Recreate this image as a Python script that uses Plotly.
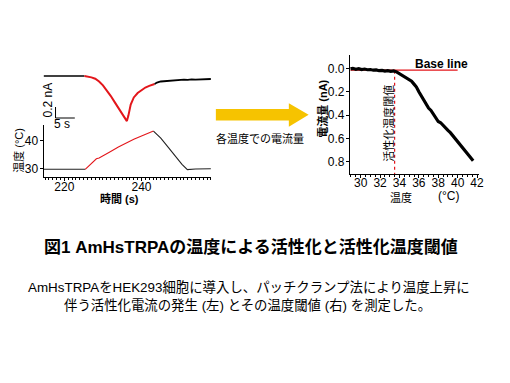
import plotly.graph_objects as go

W, H = 510, 383

# ---------------- data ----------------
# left-top: whole-cell current (nA) vs time (s)
cur_t_black1 = [214.6, 217, 219, 221, 223, 225.2]
cur_v_black1 = [0.0, 0.002, -0.002, 0.001, 0.0, 0.0]
cur_t_red = [225.2, 226, 227, 228, 229, 230, 231, 232, 233, 234, 235, 235.8, 236.2,
             236.6, 237.2, 238, 239, 240, 241, 242, 243.4]
cur_v_red = [0.0, -0.01, -0.025, -0.05, -0.1, -0.17, -0.26, -0.36, -0.47, -0.58, -0.69,
             -0.78, -0.82, -0.72, -0.52, -0.39, -0.31, -0.26, -0.21, -0.18, -0.145]
cur_t_black2 = [243.4, 244, 245, 246, 247, 248, 249, 250, 251, 252, 253, 254, 255, 256, 257, 258]
cur_v_black2 = [-0.145, -0.12, -0.1, -0.095, -0.08, -0.085, -0.07, -0.075, -0.065, -0.07,
                -0.06, -0.065, -0.06, -0.055, -0.06, -0.055]

# left-bottom: bath temperature (°C) vs time (s)
tmp_t_black1 = [214.6, 225.4]
tmp_v_black1 = [29.7, 29.7]
tmp_t_red = [225.4, 226.5, 227.5, 228.3, 229, 230, 232, 234, 236, 238, 240, 242, 243.1]
tmp_v_red = [29.7, 31.2, 32.7, 33.5, 33.8, 34.5, 36.2, 37.8, 39.3, 40.6, 41.8, 42.8, 43.6]
tmp_t_black2 = [243.1, 245, 247, 249, 250.5, 251.9, 254, 258]
tmp_v_black2 = [43.6, 41.0, 37.6, 34.0, 31.5, 29.6, 29.8, 29.9]

# right: current amplitude (nA) vs temperature (°C)
rt_temp = [28.95, 29.2, 29.5, 29.8, 30.1, 30.4, 30.7, 31.0, 31.3, 31.6, 31.9, 32.2, 32.5,
           32.8, 33.1, 33.4, 33.7, 34.0, 34.25, 34.5, 34.75, 35.0, 35.25, 35.5, 35.75,
           36.0, 36.25, 36.5, 36.75, 37.0, 37.25, 37.5, 37.75, 38.0, 38.25, 38.5, 38.75,
           39.0, 39.25, 39.5, 39.75, 40.0, 40.25, 40.5, 40.75, 41.0, 41.25, 41.5, 41.6]
rt_curr = [0.005, 0.0, 0.008, 0.003, 0.01, 0.006, 0.012, 0.01, 0.016, 0.013, 0.02, 0.018,
           0.024, 0.02, 0.026, 0.022, 0.03, 0.045, 0.055, 0.07, 0.08, 0.1, 0.11, 0.135,
           0.16, 0.2, 0.235, 0.275, 0.3, 0.34, 0.36, 0.39, 0.42, 0.455, 0.465, 0.49, 0.51,
           0.53, 0.55, 0.575, 0.6, 0.625, 0.65, 0.67, 0.7, 0.725, 0.755, 0.78, 0.79]
baseline_x = [28.95, 40.0]
baseline_y = [0.015, 0.015]
threshold = 33.5

# ---------------- helpers ----------------
def px(x):
    return x / W

def py(y):
    return 1 - y / H

RED = "#E3161B"
FONT = "Liberation Sans, Arial, Noto Sans CJK JP, sans-serif"
JFONT = "Noto Sans CJK JP, sans-serif"

fig = go.Figure()

# current traces
fig.add_trace(go.Scatter(x=cur_t_black1, y=cur_v_black1, mode="lines",
                         line=dict(color="black", width=1.6), xaxis="x", yaxis="y"))
fig.add_trace(go.Scatter(x=cur_t_red, y=cur_v_red, mode="lines",
                         line=dict(color=RED, width=2), xaxis="x", yaxis="y"))
fig.add_trace(go.Scatter(x=cur_t_black2, y=cur_v_black2, mode="lines",
                         line=dict(color="black", width=1.8), xaxis="x", yaxis="y"))

# temperature traces
fig.add_trace(go.Scatter(x=tmp_t_black1, y=tmp_v_black1, mode="lines",
                         line=dict(color="#222222", width=1.1), xaxis="x2", yaxis="y2"))
fig.add_trace(go.Scatter(x=tmp_t_red, y=tmp_v_red, mode="lines",
                         line=dict(color=RED, width=1.1), xaxis="x2", yaxis="y2"))
fig.add_trace(go.Scatter(x=tmp_t_black2, y=tmp_v_black2, mode="lines",
                         line=dict(color="#222222", width=1.1), xaxis="x2", yaxis="y2"))

# right panel
fig.add_trace(go.Scatter(x=baseline_x, y=baseline_y, mode="lines",
                         line=dict(color=RED, width=1.3), xaxis="x3", yaxis="y3"))
fig.add_trace(go.Scatter(x=[threshold, threshold], y=[0.02, 0.906], mode="lines",
                         line=dict(color=RED, width=1.2, dash="dot"), xaxis="x3", yaxis="y3"))
fig.add_trace(go.Scatter(x=rt_temp, y=rt_curr, mode="lines",
                         line=dict(color="black", width=3.2), xaxis="x3", yaxis="y3"))

# scale bars (data coords of top-left panel)
fig.add_shape(type="line", xref="x", yref="y", x0=217.7, x1=217.7, y0=-0.564, y1=-0.764,
              line=dict(color="black", width=1))
fig.add_shape(type="line", xref="x", yref="y", x0=217.7, x1=222.7, y0=-0.764, y1=-0.764,
              line=dict(color="black", width=1))

# yellow arrow
pts = [(218, 109), (291.7, 109), (291.7, 103.3), (311.7, 114.8), (291.7, 126.7),
       (291.7, 120.5), (218, 120.5)]
path = "M " + " L ".join(f"{px(a):.5f},{py(b):.5f}" for a, b in pts) + " Z"
fig.add_shape(type="path", xref="paper", yref="paper", path=path,
              fillcolor="#F6C300", line=dict(width=0))

axis_common = dict(showline=True, linecolor="black", linewidth=1, ticks="outside",
                   ticklen=3, tickwidth=1, tickcolor="black", showgrid=False,
                   zeroline=False, tickfont=dict(family=FONT, size=12, color="black"))

fig.update_layout(
    width=W, height=H, margin=dict(l=0, r=0, t=0, b=0),
    paper_bgcolor="white", plot_bgcolor="white", showlegend=False,
    xaxis=dict(domain=[px(44), px(213)], range=[214.6, 258], visible=False, anchor="y"),
    yaxis=dict(domain=[py(130), py(70)], range=[-0.982, 0.109], visible=False, anchor="x"),
    xaxis2=dict(domain=[px(44), px(213)], range=[214.6, 258], anchor="y2",
                tickvals=[220, 240], ticklabelstandoff=-4,
                minor=dict(ticks="outside", ticklen=2, dtick=1, tickcolor="black"),
                **axis_common),
    yaxis2=dict(domain=[py(177), py(125)], range=[26.9, 45.8], anchor="x2",
                tickvals=[30, 40], ticklabelstandoff=-1, **axis_common),
    xaxis3=dict(domain=[px(353.3), px(484)], range=[28.88, 42.23], anchor="y3",
                tickvals=[30, 32, 34, 36, 38, 40, 42], ticklabelstandoff=-6,
                minor=dict(ticks="outside", ticklen=2, dtick=0.5, tickcolor="black"),
                **axis_common),
    yaxis3=dict(domain=[py(174.3), py(55)], range=[0.906, -0.114], anchor="x3",
                tickvals=[0, 0.2, 0.4, 0.6, 0.8], tickformat=".1f", ticklabelstandoff=-1,
                **axis_common),
)

def ann(text, x, y, size=12, bold=False, angle=0, family=FONT, xanchor="center"):
    if bold:
        text = f"<b>{text}</b>"
    fig.add_annotation(text=text, x=px(x), y=py(y), xref="paper", yref="paper",
                       showarrow=False, xanchor=xanchor, yanchor="middle",
                       textangle=angle, font=dict(family=family, size=size, color="black"))

ann("0.2 nA", 48, 100, size=12, angle=-90)
ann("5 s", 63, 124, size=12)
ann("温度 (°C)", 19, 150, size=11, angle=-90)
ann("時間 (s)", 121, 198, size=11, bold=True)
ann("各温度での電流量", 263, 138, size=11, family=JFONT)
ann("電流量 (nA)", 326, 109, size=11, bold=True, angle=-90)
ann("Base line", 446, 64, size=12, bold=True)
ann("活性化温度閾値", 391.5, 123, size=11, angle=-90, family=JFONT)
ann("温度", 405, 197, size=11, family=JFONT)
ann("(°C)", 453, 196, size=12)
ann("図1 AmHsTRPAの温度による活性化と活性化温度閾値", 253, 247, size=17, bold=True)
ann("AmHsTRPAをHEK293細胞に導入し、パッチクランプ法により温度上昇に", 251, 287, size=13.4)
ann("伴う活性化電流の発生 (左) とその温度閾値 (右) を測定した。", 250, 305, size=13.4)

fig.write_html("out.html", config={"displayModeBar": False},
               post_script="document.body.style.margin='0';")
